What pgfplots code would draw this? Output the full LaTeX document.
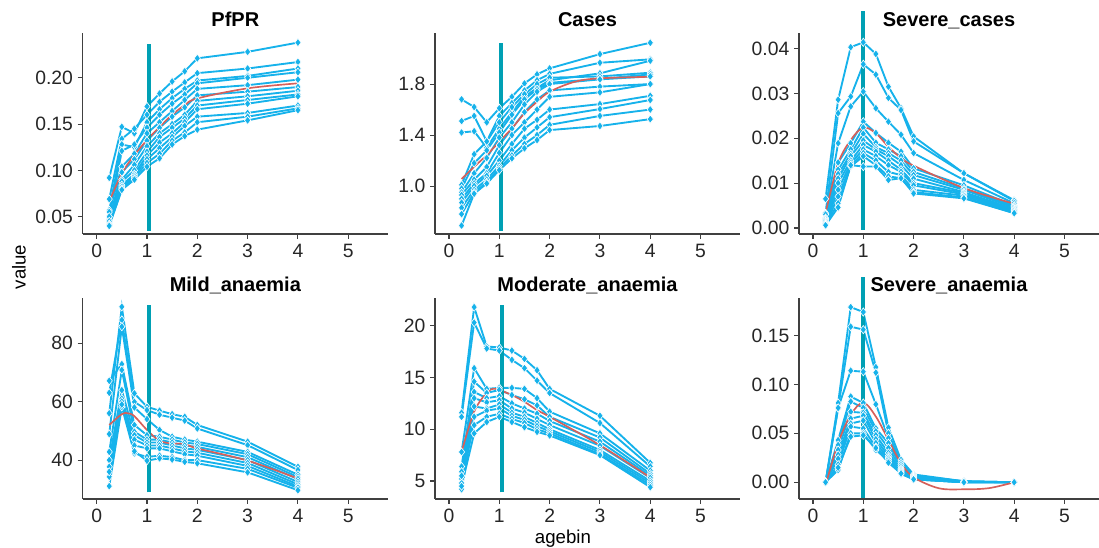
\documentclass[border=0pt]{standalone}
\usepackage{fontspec}
\setmainfont{Liberation Sans}
\usepackage{pgfplots}
\usepackage{pgfplotstable}
\pgfplotsset{compat=1.18}

\definecolor{skyb}{RGB}{22,178,235}
\definecolor{vteal}{RGB}{0,160,180}
\definecolor{smoothred}{RGB}{214,96,90}

\pgfplotstableread{
x s1 s2 s3 s4 s5 s6 s7 s8 s9 s10 s11 s12
0.25 0.092 0.069 0.057 0.050 0.055 0.047 0.044 0.050 0.045 0.042 0.041 0.040
0.5 0.147 0.134 0.128 0.121 0.104 0.098 0.090 0.088 0.084 0.082 0.080 0.079
0.75 0.140 0.145 0.125 0.128 0.118 0.112 0.106 0.100 0.096 0.094 0.092 0.090
1 0.169 0.160 0.152 0.146 0.140 0.132 0.126 0.120 0.116 0.112 0.108 0.104
1.25 0.183 0.174 0.166 0.160 0.152 0.146 0.140 0.136 0.130 0.124 0.118 0.113
1.5 0.196 0.185 0.178 0.172 0.164 0.158 0.150 0.146 0.140 0.136 0.132 0.128
1.75 0.207 0.195 0.188 0.182 0.176 0.168 0.160 0.156 0.152 0.148 0.141 0.137
2 0.221 0.205 0.197 0.194 0.188 0.181 0.175 0.170 0.166 0.158 0.152 0.144
3 0.228 0.210 0.202 0.200 0.192 0.185 0.180 0.176 0.172 0.162 0.158 0.154
4 0.238 0.217 0.210 0.206 0.198 0.190 0.186 0.182 0.180 0.170 0.167 0.165
}\pfpr

\pgfplotstableread{
x s1 s2 s3 s4 s5 s6 s7 s8 s9 s10 s11 s12
0.25 1.68 1.51 1.42 1.01 0.98 0.95 0.93 0.90 0.87 0.83 0.78 0.69
0.5 1.62 1.55 1.43 1.25 1.18 1.10 1.05 1.02 1.00 0.97 0.95 0.94
0.75 1.50 1.35 1.30 1.35 1.28 1.22 1.15 1.10 1.08 1.05 1.03 1.02
1 1.61 1.55 1.45 1.50 1.42 1.38 1.32 1.26 1.20 1.16 1.14 1.125
1.25 1.70 1.65 1.58 1.62 1.56 1.50 1.45 1.40 1.33 1.28 1.24 1.217
1.5 1.805 1.75 1.70 1.72 1.68 1.64 1.58 1.50 1.45 1.38 1.33 1.296
1.75 1.876 1.83 1.77 1.80 1.76 1.74 1.68 1.60 1.52 1.46 1.40 1.361
2 1.923 1.88 1.83 1.85 1.81 1.80 1.75 1.70 1.60 1.54 1.48 1.439
3 2.035 1.967 1.884 1.86 1.84 1.837 1.78 1.735 1.643 1.604 1.55 1.471
4 2.124 1.994 1.983 1.889 1.876 1.86 1.80 1.80 1.708 1.675 1.60 1.525
}\cases

\pgfplotstableread{
x s1 s2 s3 s4 s5 s6 s7 s8 s9 s10 s11 s12
0.25 0.0065 0.0033 0.0030 0.0022 0.0020 0.0018 0.0015 0.0012 0.0010 0.0008 0.0008 0.0006
0.5 0.0286 0.0256 0.0189 0.0146 0.0130 0.0120 0.0110 0.0100 0.0085 0.0070 0.0055 0.0046
0.75 0.0403 0.0293 0.0271 0.0189 0.0175 0.0165 0.0160 0.0150 0.0145 0.0140 0.0137 0.0140
1 0.0414 0.0365 0.0304 0.0237 0.0224 0.0210 0.0195 0.0185 0.0175 0.0167 0.0160 0.0137
1.25 0.0388 0.0342 0.0267 0.0212 0.0190 0.0180 0.0175 0.0170 0.0160 0.0150 0.0140 0.0137
1.5 0.0315 0.0290 0.0237 0.0190 0.0175 0.0167 0.0160 0.0150 0.0140 0.0125 0.0115 0.0107
1.75 0.0267 0.0263 0.0208 0.0170 0.0160 0.0150 0.0140 0.0130 0.0125 0.0118 0.0111 0.0111
2 0.0204 0.0193 0.0167 0.0133 0.0125 0.0118 0.0110 0.0100 0.0095 0.0085 0.0080 0.0077
3 0.0122 0.0122 0.0107 0.0095 0.0088 0.0085 0.0080 0.0078 0.0075 0.0072 0.0068 0.0066
4 0.0062 0.0060 0.0055 0.0050 0.0048 0.0045 0.0042 0.0040 0.0038 0.0035 0.0033 0.0033
}\sevcases

\pgfplotstableread{
x s1 s2 s3 s4 s5 s6 s7 s8 s9 s10
0.25 56.0 63.0 48.9 67.1 42.8 40.0 37.7 34.3 31.1 36.0
0.5 92.4 87.9 85.6 72.8 70.8 63.9 61.0 60.0 58.2 59.0
0.75 62.8 59.9 58.0 52.0 49.7 48.5 47.0 45.0 42.3 43.0
1 58.2 57.1 54.0 48.5 47.0 46.0 45.0 44.0 41.1 39.8
1.25 56.9 55.5 50.3 48.0 47.0 46.0 45.0 44.0 41.5 40.6
1.5 55.7 54.5 48.0 47.0 46.0 45.0 44.0 43.0 41.0 40.2
1.75 54.8 53.5 47.0 46.0 45.0 44.0 43.0 42.0 40.0 39.4
2 52.0 50.8 46.3 45.5 44.5 43.5 42.5 41.5 40.0 38.9
3 46.3 45.1 42.8 42.0 41.0 40.0 39.0 38.0 37.0 35.8
4 37.7 36.6 35.0 34.2 33.5 32.5 31.7 31.0 30.5 29.7
}\mild

\pgfplotstableread{
x s1 s2 s3 s4 s5 s6 s7 s8 s9 s10
0.25 11.6 11.2 7.8 6.4 5.9 5.2 4.8 4.2 5.5 4.5
0.5 21.8 20.3 15.9 14.6 13.6 13.0 12.2 11.2 10.4 9.6
0.75 18.0 17.8 13.9 13.5 13.0 12.6 12.0 11.8 11.2 10.7
1 17.9 17.6 14.0 13.8 13.2 12.8 12.4 12.0 11.5 11.2
1.25 17.6 16.7 14.0 13.3 12.5 12.0 11.6 11.3 11.0 10.7
1.5 16.8 15.9 13.9 12.9 12.0 11.6 11.2 10.9 10.6 10.2
1.75 15.7 14.7 13.0 12.3 11.5 11.0 10.6 10.3 10.0 9.75
2 13.9 13.5 11.7 11.2 10.8 10.4 10.0 9.8 9.6 9.4
3 11.3 10.6 9.6 9.2 8.8 8.4 8.0 7.8 7.6 7.5
4 6.75 6.4 6.0 5.7 5.5 5.3 5.0 4.8 4.6 4.4
}\moderate

\pgfplotstableread{
x s1 s2 s3 s4 s5 s6 s7 s8 s9 s10 s11
0.25 0 0 0 0 0 0 0 0 0 0 0
0.5 0.081 0.0757 0.076 0.043 0.038 0.033 0.028 0.024 0.018 0.0126 0.015
0.75 0.179 0.159 0.114 0.0876 0.0825 0.072 0.065 0.060 0.0569 0.050 0.0466
1 0.174 0.156 0.113 0.081 0.076 0.071 0.068 0.063 0.055 0.050 0.048
1.25 0.1176 0.112 0.0797 0.055 0.052 0.048 0.044 0.040 0.036 0.033 0.035
1.5 0.0559 0.050 0.045 0.040 0.035 0.030 0.027 0.025 0.024 0.022 0.020
1.75 0.0228 0.020 0.018 0.016 0.014 0.013 0.012 0.011 0.010 0.0085 0.009
2 0.008 0.007 0.006 0.006 0.005 0.005 0.004 0.004 0.003 0.003 0.003
3 0.001 0.001 0.001 0.0005 0.0005 0 0 0 0 0 0
4 0 0 0 0 0 0 0 0 0 0 0
}\sevanaemia

\pgfplotsset{
  panel/.style={
    scale only axis, width=229pt, height=150.5pt,
    anchor=south west,
    axis x line=bottom, axis y line=left,
    axis line style={-, draw=black!75, line width=0.8pt},
    tick style={draw=black!75, line width=0.8pt},
    tick align=outside, major tick length=3.75pt,
    xmin=-0.278, xmax=5.79, xtick={0,1,2,3,4,5},
    tick label style={font=\fontsize{14.5}{17}\selectfont, text=black!85},
    /pgf/number format/assume math mode=true,
    scaled y ticks=false, clip=false,
  },
  blueline/.style={color=skyb, line width=1.4pt, mark=diamond*, mark size=3.1pt,
    mark options={fill=skyb, draw=white, line width=0.45pt, solid}},
  redline/.style={color=smoothred, line width=1.25pt, smooth, tension=0.55, no marks},
  vline/.style={color=vteal, line width=3.2pt, no marks},
}

\begin{document}
\begin{tikzpicture}
\useasboundingbox (0,0) rectangle (824.25pt,411pt);

% PfPR
\begin{axis}[panel, at={(62.0pt,235.5pt)},
  ymin=0.0313, ymax=0.248, ytick={0.05,0.10,0.15,0.20}, yticklabels={0.05,0.10,0.15,0.20}]
\pgfplotsinvokeforeach{1,...,12}{\addplot[blueline] table[x=x,y=s#1]{\pfpr};}
\addplot[redline] coordinates {(0.25,0.066) (0.5,0.0967) (0.75,0.1165) (1,0.1327) (1.25,0.147) (1.5,0.16) (1.75,0.1705) (2,0.1777) (3,0.1886) (4,0.194)};
\addplot[vline] coordinates {(1.04,0.035) (1.04,0.237)};
\end{axis}

% Cases
\begin{axis}[panel, at={(326.25pt,235.5pt)},
  ymin=0.624, ymax=2.198, ytick={1.0,1.4,1.8}, yticklabels={1.0,1.4,1.8}]
\pgfplotsinvokeforeach{1,...,12}{\addplot[blueline] table[x=x,y=s#1]{\cases};}
\addplot[redline] coordinates {(0.25,1.055) (0.5,1.151) (0.75,1.243) (1,1.348) (1.25,1.453) (1.5,1.57) (1.75,1.661) (2,1.74) (2.5,1.818) (3,1.845) (4,1.857)};
\addplot[vline] coordinates {(1.03,0.649) (1.03,2.119)};
\end{axis}

% Severe_cases
\begin{axis}[panel, at={(599.25pt,235.5pt)}, width=225pt, xmax=5.686,
  ymin=-0.00134, ymax=0.0434, ytick={0,0.01,0.02,0.03,0.04}, yticklabels={0.00,0.01,0.02,0.03,0.04}]
\pgfplotsinvokeforeach{1,...,12}{\addplot[blueline] table[x=x,y=s#1]{\sevcases};}
\addplot[redline] coordinates {(0.25,0.0033) (0.5,0.0144) (0.75,0.0196) (1,0.0224) (1.25,0.0211) (1.5,0.0181) (1.75,0.0156) (2,0.0139) (3,0.0089) (4,0.0054)};
\addplot[vline] coordinates {(0.994,-0.00045) (0.994,0.0484)};
\end{axis}

% Mild_anaemia
\begin{axis}[panel, at={(62.0pt,36.75pt)},
  ymin=26.7, ymax=95.3, ytick={40,60,80}, yticklabels={40,60,80}]
\pgfplotsinvokeforeach{1,...,10}{\addplot[blueline] table[x=x,y=s#1]{\mild};}
\addplot[redline] coordinates {(0.25,52.0) (0.5,55.7) (0.62,56.0) (0.75,55.0) (1,50.3) (1.25,46.6) (1.5,45.7) (1.75,45.5) (2,44.0) (3,39.8) (4,33.7)};
\addplot[vline] coordinates {(1.04,28.96) (1.04,93.0)};
\end{axis}

% Moderate_anaemia
\begin{axis}[panel, at={(326.25pt,36.75pt)},
  ymin=3.26, ymax=22.65, ytick={5,10,15,20}, yticklabels={5,10,15,20}]
\pgfplotsinvokeforeach{1,...,10}{\addplot[blueline] table[x=x,y=s#1]{\moderate};}
\addplot[redline] coordinates {(0.25,7.8) (0.5,11.7) (0.75,13.5) (0.92,13.9) (1.25,13.3) (1.5,12.65) (1.75,11.85) (2,11.2) (3,8.46) (4,5.34)};
\addplot[vline] coordinates {(1.05,3.91) (1.05,22.0)};
\end{axis}

% Severe_anaemia
\begin{axis}[panel, at={(599.25pt,36.75pt)}, width=225pt, xmax=5.686,
  ymin=-0.0171, ymax=0.188, ytick={0,0.05,0.10,0.15}, yticklabels={0.00,0.05,0.10,0.15}]
\pgfplotsinvokeforeach{1,...,11}{\addplot[blueline] table[x=x,y=s#1]{\sevanaemia};}
\addplot[redline] coordinates {(0.25,-0.003) (0.5,0.040) (0.75,0.0688) (1,0.0814) (1.25,0.0671) (1.5,0.0432) (1.75,0.0194) (2,0.0051) (2.5,-0.0061) (3,-0.0072) (3.5,-0.006) (4,0)};
\addplot[vline] coordinates {(0.994,-0.0157) (0.994,0.210)};
\end{axis}

% titles
\begin{scope}[every node/.style={font=\fontsize{15}{18}\selectfont\bfseries, anchor=base}]
\node at (176.5pt,391.1pt) {PfPR};
\node at (440.6pt,391.1pt) {Cases};
\node at (711.75pt,391.1pt) {Severe\_cases};
\node at (176.5pt,192.2pt) {Mild\_anaemia};
\node at (440.6pt,192.2pt) {Moderate\_anaemia};
\node at (711.75pt,192.2pt) {Severe\_anaemia};
\end{scope}

\node[rotate=90, font=\fontsize{14}{16}\selectfont] at (14.25pt,210.75pt) {value};
\node[anchor=base, font=\fontsize{14}{16}\selectfont] at (422.25pt,3.4pt) {agebin};
\end{tikzpicture}
\end{document}
